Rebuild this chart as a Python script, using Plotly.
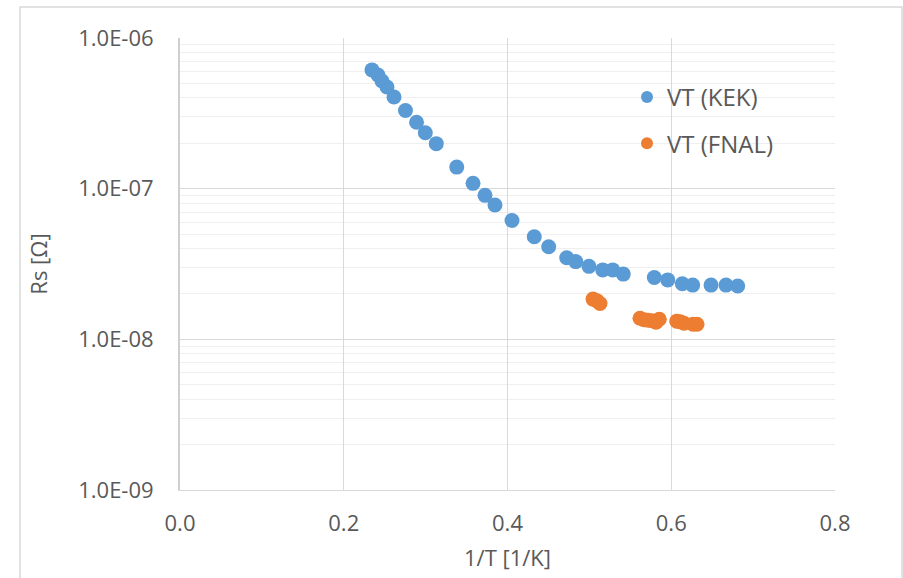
import plotly.graph_objects as go

# VT (KEK)
kek_x = [0.2345, 0.2418, 0.2467, 0.2528, 0.2614, 0.2754, 0.2889, 0.2996, 0.3130,
         0.3380, 0.3579, 0.3725, 0.3847, 0.4055, 0.4327, 0.4503, 0.4723, 0.4833,
         0.4995, 0.5163, 0.5285, 0.5414, 0.5793, 0.5957, 0.6135, 0.6262, 0.6486,
         0.6669, 0.6812]
kek_y = [6.14e-7, 5.68e-7, 5.18e-7, 4.73e-7, 4.06e-7, 3.30e-7, 2.76e-7, 2.35e-7, 1.99e-7,
         1.39e-7, 1.085e-7, 9.03e-8, 7.79e-8, 6.15e-8, 4.80e-8, 4.12e-8, 3.48e-8, 3.28e-8,
         3.05e-8, 2.89e-8, 2.89e-8, 2.71e-8, 2.57e-8, 2.48e-8, 2.34e-8, 2.29e-8, 2.29e-8,
         2.29e-8, 2.26e-8]

# VT (FNAL)
fnal_x = [0.5044, 0.5093, 0.5130, 0.5618, 0.5667, 0.5716, 0.5765, 0.5814, 0.5854,
          0.6067, 0.6107, 0.6156, 0.6266, 0.6315]
fnal_y = [1.85e-8, 1.80e-8, 1.73e-8, 1.38e-8, 1.35e-8, 1.34e-8, 1.33e-8, 1.30e-8, 1.36e-8,
          1.32e-8, 1.31e-8, 1.28e-8, 1.26e-8, 1.26e-8]

y_tickvals = [1e-9, 1e-8, 1e-7, 1e-6]
y_ticktext = ["1.0E-09", "1.0E-08", "1.0E-07", "1.0E-06"]
x_tickvals = [0.0, 0.2, 0.4, 0.6, 0.8]
x_ticktext = ["0.0", "0.2", "0.4", "0.6", "0.8"]

FONT = "Open Sans"
TXT = "#595959"
GRID = "#d9d9d9"

fig = go.Figure()
fig.add_trace(go.Scatter(x=kek_x, y=kek_y, mode="markers", name="VT (KEK)",
                         legendgroup="a",
                         marker=dict(color="#5B9BD5", size=15, line=dict(width=0))))
fig.add_trace(go.Scatter(x=fnal_x, y=fnal_y, mode="markers", name="VT (FNAL)",
                         legendgroup="b",
                         marker=dict(color="#ED7D31", size=15, line=dict(width=0))))

fig.update_layout(
    width=903, height=578,
    margin=dict(l=180, r=68, t=38, b=88, autoexpand=False),
    paper_bgcolor="white", plot_bgcolor="white",
    font=dict(family=FONT, color=TXT, size=20),
    showlegend=True,
    legend=dict(x=(627 - 180) / 655, y=(490 - 75) / 452, xanchor="left", yanchor="top",
                font=dict(family=FONT, size=24, color=TXT),
                bgcolor="rgba(0,0,0,0)", tracegroupgap=12, itemsizing="constant"),
    shapes=[dict(type="rect", xref="paper", yref="paper",
                 x0=(20 - 180) / 655, x1=(902 - 180) / 655,
                 y0=(490 - 600) / 452, y1=(490 - 7) / 452,
                 line=dict(color="#d9d9d9", width=1.5), fillcolor="rgba(0,0,0,0)",
                 layer="below")],
)

fig.update_xaxes(
    range=[0, 0.8], tickvals=x_tickvals, ticktext=x_ticktext, automargin=False,
    showgrid=True, gridcolor=GRID, gridwidth=1,
    showline=True, linecolor=GRID, linewidth=1, mirror=False,
    zeroline=False, ticks="", ticklabelstandoff=14,
    tickfont=dict(family=FONT, size=22, color=TXT),
    title=dict(text="1/T [1/K]", font=dict(family=FONT, size=22, color=TXT), standoff=14),
)
fig.update_yaxes(
    type="log", range=[-9, -6], tickvals=y_tickvals, ticktext=y_ticktext, automargin=False,
    showgrid=True, gridcolor=GRID, gridwidth=1,
    showline=True, linecolor="#cfcfcf", linewidth=2,
    zeroline=False, ticks="", ticklabelstandoff=20,
    tickfont=dict(family=FONT, size=22, color=TXT),
    minor=dict(dtick="D1", showgrid=True, gridcolor="#efefef", gridwidth=1, ticks=""),
    title=dict(text="Rs [Ω]", font=dict(family=FONT, size=22, color=TXT), standoff=24),
)

fig.write_html("out.html")
